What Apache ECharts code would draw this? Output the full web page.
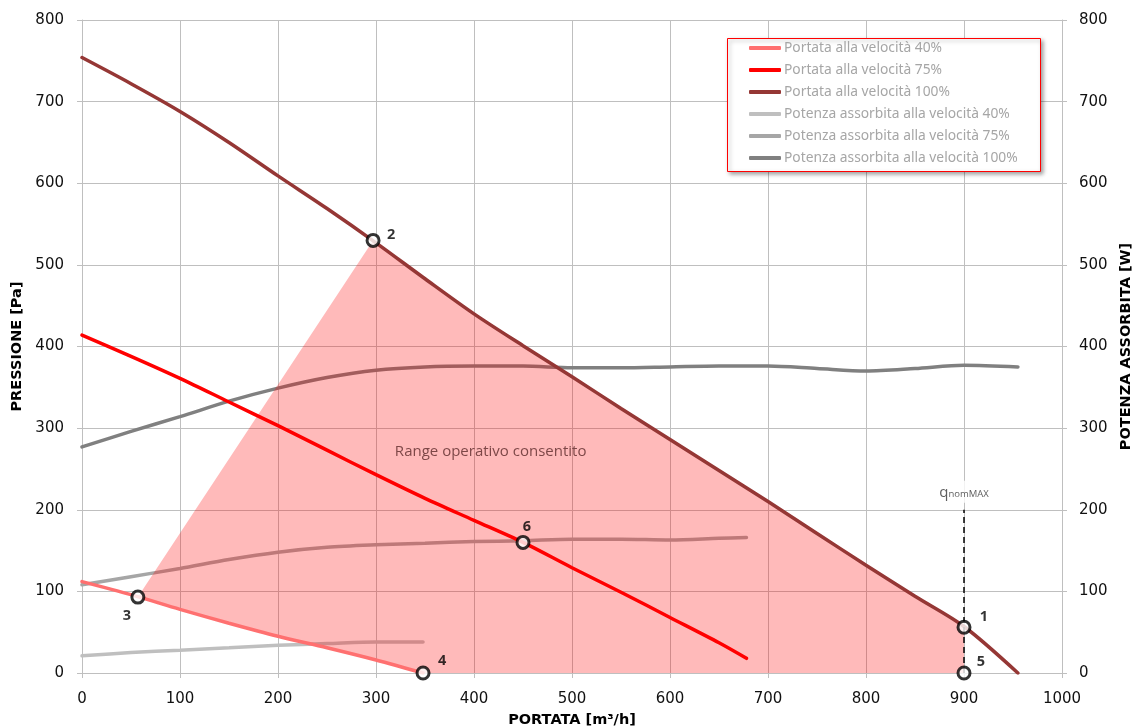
<!DOCTYPE html>
<html>
<head>
<meta charset="utf-8">
<script src="https://cdn.jsdelivr.net/npm/echarts@6/dist/echarts.min.js"></script>
<style>html,body{margin:0;padding:0;background:#fff;}#c{width:1135px;height:728px;}</style>
</head>
<body>
<div id="c"></div>
<script>
// ---- data ----
const portata100 = [[0,754],[50,722],[100,688],[150,650],[200,609],[250,569],[300,527],[350,483],[400,440],[450,401],[500,363],[550,324],[600,286],[650,248],[700,210],[750,171],[800,132],[850,94],[900,57],[955,0]];
const portata75 = [[0,414],[50,388],[100,361],[150,332],[200,303],[250,273],[300,243],[350,214],[400,187],[450,160],[500,129],[550,99],[600,68],[650,37],[678,18]];
const portata40 = [[0,112],[50,96],[100,78],[150,61],[200,45],[250,31],[300,16],[348,0]];
const potenza100 = [[0,277],[50,296],[100,314],[150,333],[200,349],[250,362],[300,371],[350,375],[400,376],[450,376],[500,374],[550,374],[600,375],[650,376],[700,376],[750,373],[800,370],[850,373],[900,377],[955,375]];
const potenza75 = [[0,108],[50,118],[100,128],[150,139],[200,148],[250,154],[300,157],[350,159],[400,161],[450,162],[500,164],[550,164],[600,163],[650,165],[678,166]];
const potenza40 = [[0,21],[50,25],[100,28],[150,31],[200,34],[250,36],[300,38],[348,38]];
const operatingPoints = [[900,56],[297,530],[57,93],[348,0],[900,0],[450,160]];
const operatingPointNames = ['1','2','3','4','5','6'];
const qnomMax = 900;
const qnomMaxLineTop = 200;
const qnomMaxLabelY = 222;
const rangeLabelAt = [417, 271];
const seriesNames = ['Portata alla velocità 40%','Portata alla velocità 75%','Portata alla velocità 100%','Potenza assorbita alla velocità 40%','Potenza assorbita alla velocità 75%','Potenza assorbita alla velocità 100%'];
const xTicks = {min:0, max:1000, interval:100};
const yTicks = {min:0, max:800, interval:100};

// ---- styles ----
const colors = ['#FF7070','#FF0000','#953735','#BFBFBF','#A6A6A6','#808080'];
const pointLabelOffsets = [[20,-10],[18,-6],[-11,19],[19,-12],[17,-11],[4,-16]];

// polygon of the allowed operating range built from the curves
const p1 = operatingPoints[0], p2 = operatingPoints[1], p3 = operatingPoints[2], p4 = operatingPoints[3], p5 = operatingPoints[4];
const rangePolygon = [p3, p2]
  .concat(portata100.filter(d => d[0] > p2[0] && d[0] < p1[0]))
  .concat([p1, p5, p4])
  .concat(portata40.filter(d => d[0] > p3[0] && d[0] < p4[0]).reverse());

const chart = echarts.init(document.getElementById('c'));
const tickFont = {fontFamily:'DejaVu Sans', fontSize:15, color:'#111', formatter: v => String(v)};
const titleFont = {fontFamily:'DejaVu Sans', fontSize:14.5, fontWeight:'bold', color:'#000'};

function curve(name, data, idx, yIdx, z) {
  return {
    name: name, type:'line', data: data, yAxisIndex: yIdx, smooth: 0.3, symbol:'none', z: z,
    lineStyle:{color: colors[idx], width: 3.5, cap:'round'}, itemStyle:{color: colors[idx]},
    emphasis:{disabled:true}, silent:true
  };
}

const option = {
  animation:false,
  backgroundColor:'#fff',
  grid:{left:82, right:73, top:20, bottom:55, containLabel:false, outerBoundsMode:'none'},
  xAxis:{
    type:'value', min:xTicks.min, max:xTicks.max, interval:xTicks.interval,
    name:'PORTATA [m³/h]', nameLocation:'middle', nameGap:40, nameTextStyle:titleFont,
    axisLine:{show:true, onZero:false, lineStyle:{color:'#BFBFBF'}},
    axisTick:{show:true, length:5, lineStyle:{color:'#BFBFBF'}},
    axisLabel:Object.assign({margin:19}, tickFont),
    splitLine:{show:true, lineStyle:{color:'#BFBFBF', width:1}}
  },
  yAxis:[{
    type:'value', min:yTicks.min, max:yTicks.max, interval:yTicks.interval, position:'left',
    name:'PRESSIONE [Pa]', nameLocation:'middle', nameGap:57, nameRotate:90, nameTextStyle:titleFont,
    axisLine:{show:true, lineStyle:{color:'#BFBFBF'}},
    axisTick:{show:true, length:5, lineStyle:{color:'#BFBFBF'}},
    axisLabel:Object.assign({margin:18}, tickFont),
    splitLine:{show:true, lineStyle:{color:'#BFBFBF', width:1}}
  },{
    type:'value', min:yTicks.min, max:yTicks.max, interval:yTicks.interval, position:'right',
    name:'POTENZA ASSORBITA [W]', nameLocation:'middle', nameGap:56, nameRotate:90, nameTextStyle:titleFont,
    axisLine:{show:true, lineStyle:{color:'#BFBFBF'}},
    axisTick:{show:true, length:5, lineStyle:{color:'#BFBFBF'}},
    axisLabel:Object.assign({margin:17}, tickFont),
    splitLine:{show:false}
  }],
  graphic:[{
    type:'rect', left:727, top:38, z:90,
    shape:{width:313, height:133},
    style:{fill:'#fff', stroke:'#FF0000', lineWidth:1, shadowBlur:4, shadowOffsetX:2, shadowOffsetY:2, shadowColor:'rgba(0,0,0,0.35)'}
  }],
  legend:{
    data: seriesNames, orient:'vertical', left:749, top:41, z:100, padding:0,
    icon:'roundRect', itemWidth:32, itemHeight:4, itemGap:8,
    textStyle:{fontFamily:'Noto Sans', fontSize:13.8, color:'#A6A6A6', lineHeight:14, padding:[0,0,0,-2]},
    selectedMode:false
  },
  series:[
    curve(seriesNames[3], potenza40, 3, 1, 2),
    curve(seriesNames[4], potenza75, 4, 1, 2),
    curve(seriesNames[5], potenza100, 5, 1, 2),
    {
      type:'custom', name:'range', z:3, silent:true, data:[[0,0]],
      renderItem:function(params, api){
        return {type:'polygon', shape:{points: rangePolygon.map(p => api.coord(p))},
          style:{fill:'rgba(255,0,0,0.27)'}};
      }
    },
    curve(seriesNames[0], portata40, 0, 0, 4),
    curve(seriesNames[1], portata75, 1, 0, 4),
    curve(seriesNames[2], portata100, 2, 0, 4),
    {
      type:'line', name:'qnomMAX', z:5, silent:true, symbol:'none',
      data:[[qnomMax,0],[qnomMax,qnomMaxLineTop]],
      lineStyle:{color:'#000', width:1.5, type:[6,4]}
    },
    {
      type:'scatter', name:'qlabel', z:6, silent:true, symbolSize:0,
      data:[[qnomMax, qnomMaxLabelY]],
      label:{show:true, position:'inside', formatter:'{q|q}{s|nomMAX}', backgroundColor:'#fff', padding:[3,4,3,4],
        rich:{q:{fontFamily:'Open Sans', fontSize:15, color:'#333', verticalAlign:'bottom'},
              s:{fontFamily:'Open Sans', fontSize:9.5, color:'#333', padding:[6,0,0,0], verticalAlign:'bottom'}}}
    },
    {
      type:'scatter', name:'rangeText', z:6, silent:true, symbolSize:0,
      data:[rangeLabelAt],
      label:{show:true, position:'inside', formatter:'Range operativo consentito', fontFamily:'Open Sans', fontSize:15, color:'#5C2A2A'}
    },
    {
      type:'scatter', name:'points', z:7, silent:true, symbol:'circle', symbolSize:12,
      itemStyle:{color:'#fff', borderColor:'#000', borderWidth:3},
      data: operatingPoints.map((p,i) => ({
        value:p, name:operatingPointNames[i],
        label:{show:true, position:'inside', offset:pointLabelOffsets[i], formatter:'{b}',
          fontFamily:'Noto Sans', fontWeight:'bold', fontSize:14.5, color:'#000'}
      }))
    }
  ]
};
chart.setOption(option);
</script>
</body>
</html>
